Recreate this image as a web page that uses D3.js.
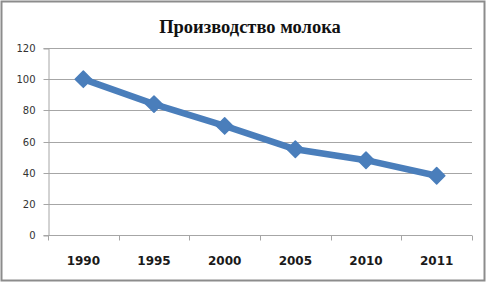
<!DOCTYPE html>
<html><head><meta charset="utf-8">
<script src="https://cdn.jsdelivr.net/npm/d3@7"></script>
<style>
html,body{margin:0;padding:0;background:#fff;}
svg{display:block;}
</style></head>
<body>
<script>
const title = "Производство молока";
const years = ["1990","1995","2000","2005","2010","2011"];
const values = [100, 84, 70, 55, 48, 38];
const yTicks = [0, 20, 40, 60, 80, 100, 120];

(function () {
const W = 487, H = 283;
const svg = d3.select("body").append("svg").attr("width", W).attr("height", H);

svg.append("rect").attr("x", 0).attr("y", 0).attr("width", W).attr("height", H).attr("fill", "#fff");
svg.append("rect").attr("x", 1.5).attr("y", 1.5).attr("width", 483).attr("height", 279)
  .attr("fill", "#fff").attr("stroke", "#8c8c8c").attr("stroke-width", 2);

const pLeft = 48, pRight = 472, pTop = 48, pBottom = 235;
const x = d3.scaleBand().domain(years).range([pLeft, pRight]);
const y = d3.scaleLinear().domain([0, 120]).range([pBottom, pTop]);

// gridlines
svg.append("g").selectAll("line").data(yTicks.filter(d => d > 0)).join("line")
  .attr("x1", pLeft).attr("x2", pRight)
  .attr("y1", d => Math.round(y(d)) + 0.5).attr("y2", d => Math.round(y(d)) + 0.5)
  .attr("stroke", "#a6a6a6").attr("stroke-width", 1);

// y axis
const ya = svg.append("g").attr("transform", `translate(${pLeft + 0.5},0.5)`)
  .call(d3.axisLeft(y).tickValues(yTicks).tickSize(5).tickPadding(8));
ya.select(".domain").attr("stroke", "#a6a6a6");
ya.selectAll(".tick line").attr("stroke", "#a6a6a6");
ya.selectAll("text").attr("font-family", "DejaVu Sans").attr("font-size", 10).attr("fill", "#333");
ya.selectAll(".tick").attr("transform", d => `translate(0,${Math.round(y(d))})`);

// x axis
const xa = svg.append("g").attr("transform", `translate(0,${pBottom + 0.5})`);
xa.append("line").attr("x1", pLeft - 1).attr("x2", pRight).attr("stroke", "#a6a6a6");
const edges = years.map(d => x(d)).concat([pRight]);
xa.selectAll("line.t").data(edges).join("line").attr("class", "t")
  .attr("x1", d => Math.round(d) + 0.5).attr("x2", d => Math.round(d) + 0.5)
  .attr("y1", 0).attr("y2", 5).attr("stroke", "#a6a6a6");
xa.selectAll("text").data(years).join("text")
  .attr("x", d => x(d) + x.bandwidth() / 2).attr("y", 29)
  .attr("text-anchor", "middle").attr("font-family", "DejaVu Sans")
  .attr("font-weight", "bold").attr("font-size", 12).attr("fill", "#1a1a1a")
  .text(d => d);

// line
const color = "#4a7ebb";
const line = d3.line().x((d, i) => x(years[i]) + x.bandwidth() / 2).y(d => y(d));
svg.append("path").datum(values).attr("d", line)
  .attr("fill", "none").attr("stroke", color).attr("stroke-width", 6.5)
  .attr("stroke-linejoin", "round").attr("stroke-linecap", "round");

svg.append("g").selectAll("path").data(values).join("path")
  .attr("d", d3.symbol().type(d3.symbolDiamond2).size(170))
  .attr("transform", (d, i) => `translate(${x(years[i]) + x.bandwidth() / 2},${y(d)})`)
  .attr("fill", color).attr("stroke", color).attr("stroke-width", 1.5).attr("stroke-linejoin", "round");

// title
svg.append("text").attr("x", 250).attr("y", 33).attr("text-anchor", "middle")
  .attr("font-family", "Liberation Serif").attr("font-weight", "bold").attr("font-size", 18.5)
  .attr("fill", "#111").text(title);
})();
</script>
</body></html>
